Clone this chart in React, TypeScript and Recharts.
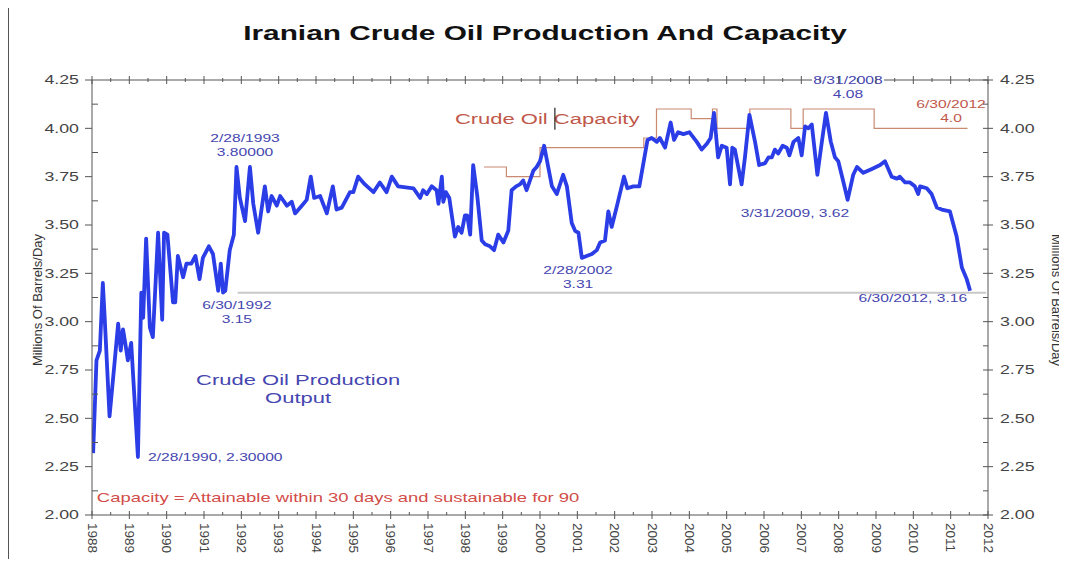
import React from "react";
import { LineChart, Line, XAxis, YAxis, ReferenceLine, ReferenceDot } from "recharts";

// production: [axis year, million barrels/day]
const production: [number, number][] = [
  [1988.03, 2.32], [1988.12, 2.8], [1988.21, 2.85], [1988.29, 3.2], [1988.34, 3.02], [1988.47, 2.51],
  [1988.61, 2.8], [1988.7, 2.99], [1988.77, 2.85], [1988.83, 2.96], [1988.89, 2.89], [1988.96, 2.8],
  [1989.05, 2.89], [1989.23, 2.3], [1989.32, 3.15], [1989.37, 3.02], [1989.45, 3.43], [1989.55, 2.97],
  [1989.63, 2.92], [1989.77, 3.46], [1989.88, 3.01], [1989.93, 3.46], [1990.02, 3.45], [1990.17, 3.1],
  [1990.23, 3.1], [1990.3, 3.34], [1990.44, 3.23], [1990.53, 3.3], [1990.66, 3.3], [1990.77, 3.34],
  [1990.88, 3.22], [1990.97, 3.33], [1991.13, 3.39], [1991.24, 3.35], [1991.38, 3.16], [1991.45, 3.3],
  [1991.51, 3.15], [1991.57, 3.16], [1991.69, 3.37], [1991.8, 3.45], [1991.87, 3.8], [1991.96, 3.64],
  [1992.1, 3.52], [1992.23, 3.8], [1992.32, 3.61], [1992.45, 3.46], [1992.63, 3.7], [1992.72, 3.57],
  [1992.81, 3.65], [1992.95, 3.6], [1993.04, 3.65], [1993.22, 3.6], [1993.35, 3.62], [1993.44, 3.56],
  [1993.62, 3.6], [1993.75, 3.63], [1993.86, 3.75], [1993.95, 3.64], [1994.11, 3.65], [1994.29, 3.56],
  [1994.45, 3.7], [1994.55, 3.58], [1994.69, 3.59], [1994.91, 3.67], [1995.0, 3.67], [1995.13, 3.75],
  [1995.31, 3.71], [1995.54, 3.67], [1995.71, 3.72], [1995.89, 3.67], [1996.03, 3.75], [1996.2, 3.7],
  [1996.61, 3.69], [1996.79, 3.64], [1996.87, 3.68], [1996.97, 3.66], [1997.1, 3.7], [1997.23, 3.68],
  [1997.28, 3.61], [1997.37, 3.75], [1997.41, 3.62], [1997.48, 3.67], [1997.57, 3.64], [1997.72, 3.44],
  [1997.81, 3.49], [1997.9, 3.46], [1997.99, 3.55], [1998.05, 3.55], [1998.13, 3.45], [1998.21, 3.81],
  [1998.32, 3.65], [1998.44, 3.42], [1998.53, 3.4], [1998.66, 3.39], [1998.77, 3.37], [1998.88, 3.45],
  [1999.02, 3.41], [1999.15, 3.47], [1999.24, 3.68], [1999.36, 3.7], [1999.46, 3.71], [1999.55, 3.73],
  [1999.64, 3.68], [1999.73, 3.73], [1999.82, 3.78], [1999.91, 3.8], [2000.0, 3.83], [2000.11, 3.91],
  [2000.22, 3.8], [2000.32, 3.7], [2000.45, 3.66], [2000.62, 3.76], [2000.72, 3.7], [2000.85, 3.51],
  [2000.94, 3.47], [2001.03, 3.46], [2001.12, 3.33], [2001.25, 3.34], [2001.39, 3.35], [2001.52, 3.37],
  [2001.61, 3.41], [2001.74, 3.42], [2001.83, 3.57], [2001.92, 3.49], [2002.05, 3.59], [2002.25, 3.75],
  [2002.34, 3.69], [2002.5, 3.7], [2002.66, 3.7], [2002.77, 3.82], [2002.88, 3.94], [2002.99, 3.95],
  [2003.13, 3.93], [2003.21, 3.95], [2003.35, 3.9], [2003.5, 4.03], [2003.59, 3.94], [2003.7, 3.98],
  [2003.84, 3.97], [2004.0, 3.98], [2004.2, 3.93], [2004.33, 3.89], [2004.47, 3.92], [2004.57, 3.95],
  [2004.66, 4.08], [2004.77, 3.85], [2004.87, 3.91], [2005.0, 3.9], [2005.09, 3.71], [2005.15, 3.9],
  [2005.22, 3.89], [2005.4, 3.71], [2005.49, 3.85], [2005.61, 4.07], [2005.76, 3.93], [2005.87, 3.81],
  [2006.03, 3.82], [2006.12, 3.85], [2006.21, 3.85], [2006.29, 3.89], [2006.38, 3.87], [2006.5, 3.91],
  [2006.61, 3.9], [2006.68, 3.86], [2006.79, 3.93], [2006.92, 3.95], [2007.01, 3.86], [2007.1, 4.01],
  [2007.19, 4.0], [2007.28, 4.02], [2007.43, 3.76], [2007.55, 3.93], [2007.66, 4.08], [2007.79, 3.93],
  [2007.9, 3.85], [2007.99, 3.83], [2008.13, 3.72], [2008.24, 3.63], [2008.39, 3.76], [2008.49, 3.8],
  [2008.66, 3.77], [2008.89, 3.79], [2009.11, 3.81], [2009.24, 3.83], [2009.42, 3.75], [2009.56, 3.74],
  [2009.64, 3.75], [2009.78, 3.72], [2009.91, 3.72], [2010.04, 3.7], [2010.13, 3.66], [2010.18, 3.7],
  [2010.36, 3.69], [2010.49, 3.66], [2010.63, 3.59], [2010.76, 3.58], [2010.98, 3.57], [2011.16, 3.44],
  [2011.3, 3.28], [2011.43, 3.22], [2011.52, 3.16],
];

// capacity steps: [axis year where the level starts, level]
const capacity: [number, number][] = [
  [1998.5, 3.8], [1999.1, 3.75], [2000.0, 3.9], [2002.78, 3.95], [2003.12, 4.1], [2004.05, 4.05],
  [2004.62, 4.1], [2004.74, 4.0], [2005.62, 4.1], [2006.72, 4.0], [2007.05, 4.1], [2008.95, 4.0],
  [2011.45, 4.0],
];

const yearLabels = [
  1988, 1989, 1990, 1991, 1992, 1993, 1994, 1995, 1996, 1997, 1998, 1999, 2000,
  2001, 2002, 2003, 2004, 2005, 2006, 2007, 2008, 2009, 2010, 2011, 2012,
];
const valueLabels = [2.0, 2.25, 2.5, 2.75, 3.0, 3.25, 3.5, 3.75, 4.0, 4.25];
const lowLine = { from: 1991.9, to: 2011.95, value: 3.15 };

const FONT = "'Liberation Sans', Arial, sans-serif";
const SX = 1.42; // the source picture is stretched sideways
const AXIS = "#555";
const BLUE = "#4646b0";
const RED = "#c0584a";

const prodData = production.map(([year, value]) => ({ year, value }));
const capData = capacity.map(([year, value]) => ({ year, value }));
const xTicks = yearLabels.flatMap((y, i) => (i < yearLabels.length - 1 ? [y, y + 0.5] : [y]));
const yTicks = valueLabels.flatMap((v, i) => (i < valueLabels.length - 1 ? [v, v + 0.125] : [v]));

type Note = {
  year: number;
  value: number;
  lines: string[];
  anchor?: "start" | "middle" | "end";
  color?: string;
  size?: number;
  gap?: number;
  bg?: boolean;
};

const notes: Note[] = [
  { year: 1992.1, value: 3.95, lines: ["2/28/1993", "3.80000"] },
  { year: 1991.88, value: 3.086, lines: ["6/30/1992", "3.15"] },
  { year: 1989.5, value: 2.3, lines: ["2/28/1990, 2.30000"], anchor: "start" },
  { year: 1993.52, value: 2.7, lines: ["Crude Oil Production", "Output"], size: 15.5, gap: 18 },
  { year: 2001.02, value: 3.267, lines: ["2/28/2002", "3.31"] },
  { year: 2008.25, value: 4.25, lines: ["8/31/2008", "4.08"], bg: true },
  { year: 2006.83, value: 3.562, lines: ["3/31/2009, 3.62"] },
  { year: 2011.44, value: 3.123, lines: ["6/30/2012, 3.16"], anchor: "end" },
  { year: 2011.01, value: 4.126, lines: ["6/30/2012", "4.0"], color: RED },
  {
    year: 1988.13,
    value: 2.088,
    lines: ["Capacity = Attainable within 30 days and sustainable for 90"],
    anchor: "start",
    color: "#d24c48",
    size: 13,
  },
];

const SText = ({ x, y, anchor = "middle", size = 11, color = "#444", children }: any) => (
  <text
    transform={`translate(${x},${y}) scale(${SX},1)`}
    textAnchor={anchor}
    dominantBaseline="central"
    fontSize={size}
    fill={color}
    fontFamily={FONT}
  >
    {children}
  </text>
);

const BottomTick = ({ x, y, payload }: any) => {
  const major = Number.isInteger(payload.value);
  return (
    <g>
      <line x1={x} x2={x} y1={major ? y - 4 : y - 3} y2={major ? y + 4 : y} stroke={AXIS} />
      {major && (
        <text
          transform={`translate(${x},${y + 8}) rotate(90)`}
          dominantBaseline="central"
          fontSize={13.5}
          fill="#444"
          fontFamily={FONT}
        >
          {payload.value}
        </text>
      )}
    </g>
  );
};

const TopTick = ({ x, y, payload }: any) => {
  const major = Number.isInteger(payload.value);
  return <line x1={x} x2={x} y1={major ? y - 4 : y - 2} y2={major ? y + 4 : y + 2} stroke={AXIS} />;
};

const isMajor = (v: number) => Math.abs(v * 4 - Math.round(v * 4)) < 1e-6;

const LeftTick = ({ x, y, payload }: any) => {
  const major = isMajor(payload.value);
  return (
    <g>
      <line x1={major ? x - 7 : x} x2={major ? x : x + 6} y1={y} y2={y} stroke={AXIS} />
      {major && (
        <SText x={x - 13} y={y} anchor="end" size={12.5}>
          {payload.value.toFixed(2)}
        </SText>
      )}
    </g>
  );
};

const RightTick = ({ x, y, payload }: any) => {
  const major = isMajor(payload.value);
  return (
    <g>
      <line x1={x - 5} x2={major ? x + 5 : x} y1={y} y2={y} stroke={AXIS} />
      {major && (
        <SText x={x + 12} y={y} anchor="start" size={12.5}>
          {payload.value.toFixed(2)}
        </SText>
      )}
    </g>
  );
};

const noteShape = (n: Note) => (p: any) => {
  const size = n.size ?? 11;
  const gap = n.gap ?? 14.5;
  return (
    <g>
      {n.bg && <rect x={p.cx - 36} y={p.cy - 8} width={72} height={16} fill="#fff" />}
      {n.lines.map((t, i) => (
        <SText key={i} x={p.cx} y={p.cy + i * gap} anchor={n.anchor ?? "middle"} size={size} color={n.color ?? BLUE}>
          {t}
        </SText>
      ))}
    </g>
  );
};

const capacityTitle = (p: any) => (
  <g>
    <SText x={p.cx} y={p.cy} anchor="start" size={15.5} color={RED}>
      Crude Oil Capacity
    </SText>
    <line x1={p.cx + 100} x2={p.cx + 100} y1={p.cy - 11} y2={p.cy + 11} stroke="#222" strokeWidth={1.2} />
  </g>
);

const sideLabel: React.CSSProperties = {
  position: "absolute",
  top: 292,
  fontFamily: FONT,
  fontSize: 13,
  color: "#333",
  whiteSpace: "nowrap",
};

export default function App() {
  return (
    <div style={{ position: "relative", width: 1051, height: 551, background: "#fff" }}>
      <div style={{ position: "absolute", left: -1, top: -8, width: 2, height: 567, background: "#555" }} />
      <div
        style={{
          position: "absolute",
          left: 537,
          top: 25,
          transform: "translate(-50%, -50%) scaleX(1.42)",
          fontFamily: FONT,
          fontWeight: "bold",
          fontSize: 21,
          color: "#111",
          whiteSpace: "nowrap",
        }}
      >
        Iranian Crude Oil Production And Capacity
      </div>
      <div style={{ ...sideLabel, left: 29, transform: "translate(-50%, -50%) rotate(-90deg)" }}>
        Millions Of Barrels/Day
      </div>
      <div style={{ ...sideLabel, left: 1048, transform: "translate(-50%, -50%) rotate(90deg)" }}>
        Millions Of Barrels/Day
      </div>
      <LineChart width={1051} height={551} margin={{ top: 71, right: 21, bottom: 4, left: 34 }}>
        <XAxis
          xAxisId="bottom"
          dataKey="year"
          type="number"
          domain={[1988, 2012]}
          allowDataOverflow
          ticks={xTicks}
          interval={0}
          tick={BottomTick}
          tickSize={0}
          tickMargin={0}
          tickLine={false}
          axisLine={{ stroke: AXIS }}
          height={40}
        />
        <XAxis
          xAxisId="top"
          orientation="top"
          dataKey="year"
          type="number"
          domain={[1988, 2012]}
          allowDataOverflow
          ticks={xTicks}
          interval={0}
          tick={TopTick}
          tickSize={0}
          tickMargin={0}
          tickLine={false}
          axisLine={{ stroke: AXIS }}
          height={1}
        />
        <YAxis
          yAxisId="left"
          type="number"
          domain={[2, 4.25]}
          allowDataOverflow
          ticks={yTicks}
          interval={0}
          tick={LeftTick}
          tickSize={0}
          tickMargin={0}
          tickLine={false}
          axisLine={{ stroke: AXIS }}
          width={50}
        />
        <YAxis
          yAxisId="right"
          orientation="right"
          type="number"
          domain={[2, 4.25]}
          allowDataOverflow
          ticks={yTicks}
          interval={0}
          tick={RightTick}
          tickSize={0}
          tickMargin={0}
          tickLine={false}
          axisLine={{ stroke: AXIS }}
          width={50}
        />
        <ReferenceLine
          xAxisId="bottom"
          yAxisId="left"
          segment={[
            { x: lowLine.from, y: lowLine.value },
            { x: lowLine.to, y: lowLine.value },
          ]}
          stroke="#c8c8c8"
          strokeWidth={2}
        />
        <Line
          xAxisId="bottom"
          yAxisId="left"
          data={capData}
          dataKey="value"
          type="stepAfter"
          stroke="#c98a72"
          strokeWidth={1.2}
          dot={false}
          isAnimationActive={false}
        />
        <Line
          xAxisId="bottom"
          yAxisId="left"
          data={prodData}
          dataKey="value"
          type="linear"
          stroke="#2a3de6"
          strokeWidth={3.8}
          strokeLinejoin="round"
          dot={false}
          isAnimationActive={false}
        />
        {notes.map((n, i) => (
          <ReferenceDot
            key={i}
            xAxisId="bottom"
            yAxisId="left"
            x={n.year}
            y={n.value}
            r={0}
            ifOverflow="visible"
            shape={noteShape(n)}
          />
        ))}
        <ReferenceDot
          xAxisId="bottom"
          yAxisId="left"
          x={1997.72}
          y={4.05}
          r={0}
          ifOverflow="visible"
          shape={capacityTitle}
        />
      </LineChart>
    </div>
  );
}
